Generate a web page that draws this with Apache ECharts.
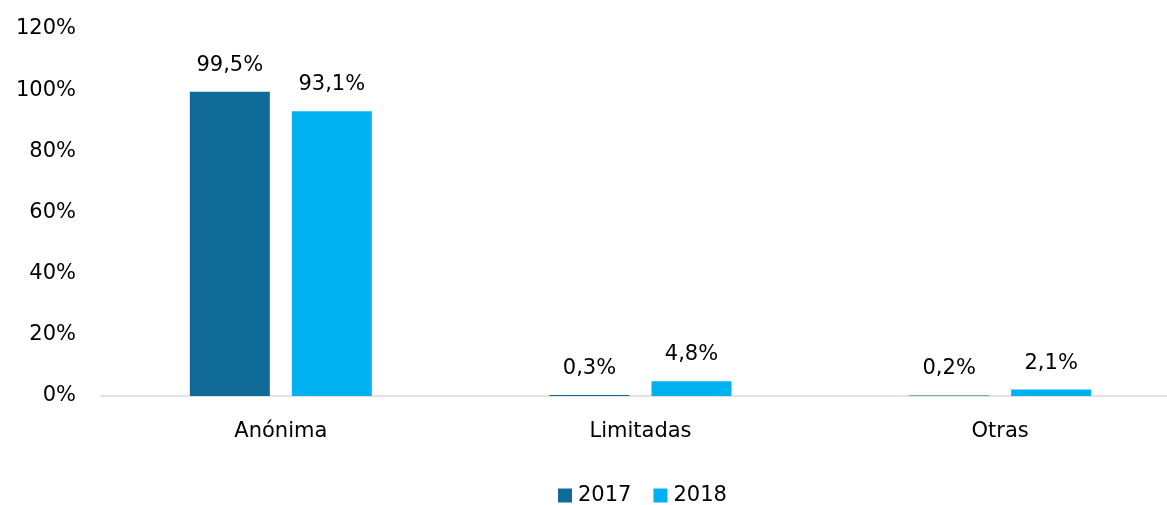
<!DOCTYPE html>
<html>
<head>
<meta charset="utf-8">
<script src="https://cdn.jsdelivr.net/npm/echarts@6/dist/echarts.min.js"></script>
<style>
  html, body { margin: 0; padding: 0; background: #fff; }
  #chart { width: 1167px; height: 505px; }
</style>
</head>
<body>
<div id="chart"></div>
<script>
const categories = ['Anónima', 'Limitadas', 'Otras'];
const years = ['2017', '2018'];
const values2017 = [99.5, 0.3, 0.2];
const values2018 = [93.1, 4.8, 2.1];
const yTicks = [0, 20, 40, 60, 80, 100, 120];

const font = '"DejaVu Sans", sans-serif';

let myChart = echarts.init(document.getElementById('chart'));

const label = {
    show: true,
    position: 'top',
    distance: 16,
    color: '#000',
    fontSize: 21,
    fontFamily: font,
    formatter: p => p.value.toFixed(1).replace('.', ',') + '%'
};

let option = {
    animation: false,
    // plot runs past the right edge like the original
    grid: { left: 101, width: 1079, top: 29, bottom: 109, outerBoundsMode: 'none', containLabel: false },
    legend: {
        top: 480,
        left: 553,
        itemWidth: 14,
        itemHeight: 14,
        itemGap: 22,
        icon: 'rect',
        textStyle: { color: '#000', fontSize: 21, fontFamily: font, padding: [0, 0, 0, 1] },
        data: years
    },
    xAxis: {
        type: 'category',
        data: categories,
        axisLine: { lineStyle: { color: '#d9d9d9', width: 1.5 } },
        axisTick: { show: false },
        axisLabel: { color: '#000', fontSize: 21, fontFamily: font, margin: 25 }
    },
    yAxis: {
        type: 'value',
        min: yTicks[0],
        max: yTicks[yTicks.length - 1],
        interval: 20,
        splitLine: { show: false },
        axisLine: { show: false },
        axisTick: { show: false },
        axisLabel: { color: '#000', fontSize: 21, fontFamily: font, margin: 25, formatter: '{value}%' }
    },
    series: [
        {
            name: years[0],
            type: 'bar',
            data: values2017,
            barWidth: 80,
            barGap: '27.5%',
            itemStyle: { color: '#106b98' },
            label: label
        },
        {
            name: years[1],
            type: 'bar',
            data: values2018,
            barWidth: 80,
            itemStyle: { color: '#00b0f0' },
            label: label
        }
    ]
};

option && myChart.setOption(option);
</script>
</body>
</html>
